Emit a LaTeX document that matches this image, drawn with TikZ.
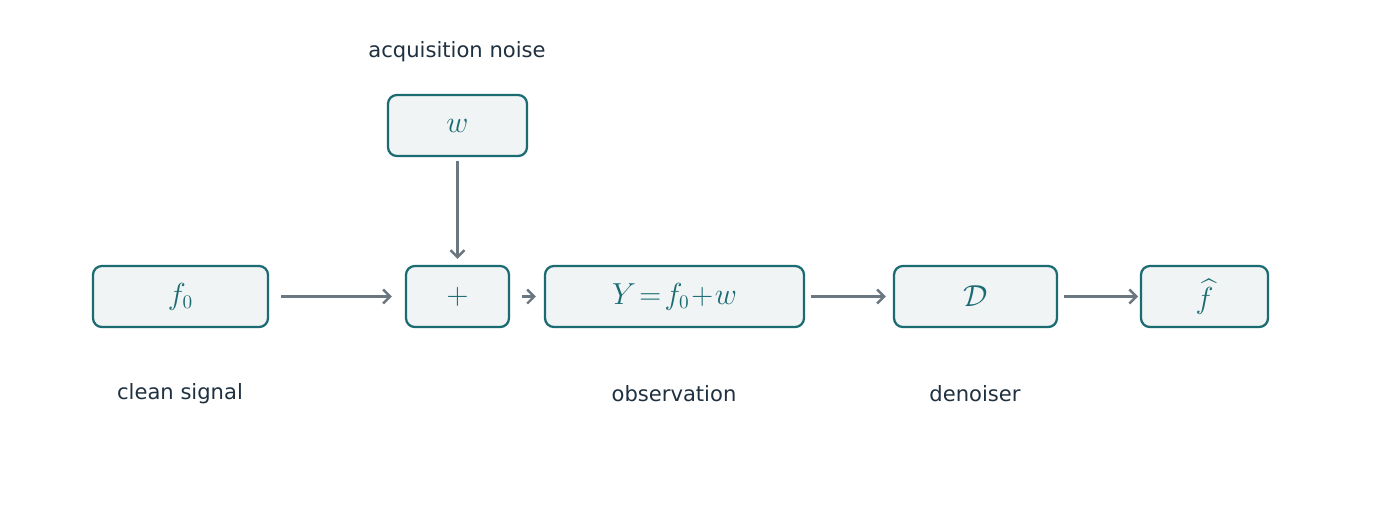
\documentclass[tikz,border=0pt]{standalone}
\usepackage{fontspec}
\setsansfont{DejaVu Sans}
\usepackage{amsmath, amssymb}
\usepackage{xcolor}
\usetikzlibrary{positioning, arrows.meta, calc}
\definecolor{boxline}{HTML}{1A6B72}
\definecolor{boxfill}{HTML}{F0F4F5}
\definecolor{arrowgray}{HTML}{6B7780}
\definecolor{labeltext}{HTML}{1F3040}

\tikzset{
    block/.style={draw=boxline, fill=boxfill, line width=1.3pt, rounded corners=5pt,
        minimum height=1.22cm, text=boxline, font=\fontsize{16}{18}\selectfont},
    caption/.style={text=labeltext, font=\sffamily\fontsize{12}{14}\selectfont},
    flow/.style={->, >={Straight Barb[length=4pt,width=8pt]}, draw=arrowgray, line width=1.4pt}
}

\begin{document}
\begin{tikzpicture}[x=0.02cm, y=-0.02cm]
        \useasboundingbox (0,0) rectangle (1373,518);

        % blocks
        \node[block, minimum width=3.5cm] (clean) at (180.5,296.5) {$f_0$};
        \node[block, minimum width=2.06cm] (sum) at (457.5,296.5) {$+$};
        \node[block, minimum width=2.78cm] (noise) at (457.5,125.5) {$w$};
        \node[block, minimum width=5.18cm] (obs) at (674.5,296.5) {$Y\!=\!f_0\!+\!w$};
        \node[block, minimum width=3.26cm] (den) at (975.5,296.5) {$\mathcal{D}$};
        \node[block, minimum width=2.54cm] (est) at (1204.5,296.5) {$\widehat{f}$};

        % Labels
        \node[caption] at (457,52) {acquisition noise};
        \node[caption] at (180,394) {clean signal};
        \node[caption] at (674,394) {observation};
        \node[caption] at (975,394) {denoiser};

        % connectors
        \draw[flow, shorten <=2.3pt, shorten >=3.4pt] (noise) -- (sum);
        \draw[flow, shorten <=6.8pt, shorten >=7.4pt] (clean) -- (sum);
        \draw[flow, shorten <=6.8pt, shorten >=4.5pt] (sum) -- (obs);
        \draw[flow, shorten <=3.4pt, shorten >=4pt] (obs) -- (den);
        \draw[flow, shorten <=3.4pt, shorten >=1pt] (den) -- (est);

    \end{tikzpicture}
\end{document}
